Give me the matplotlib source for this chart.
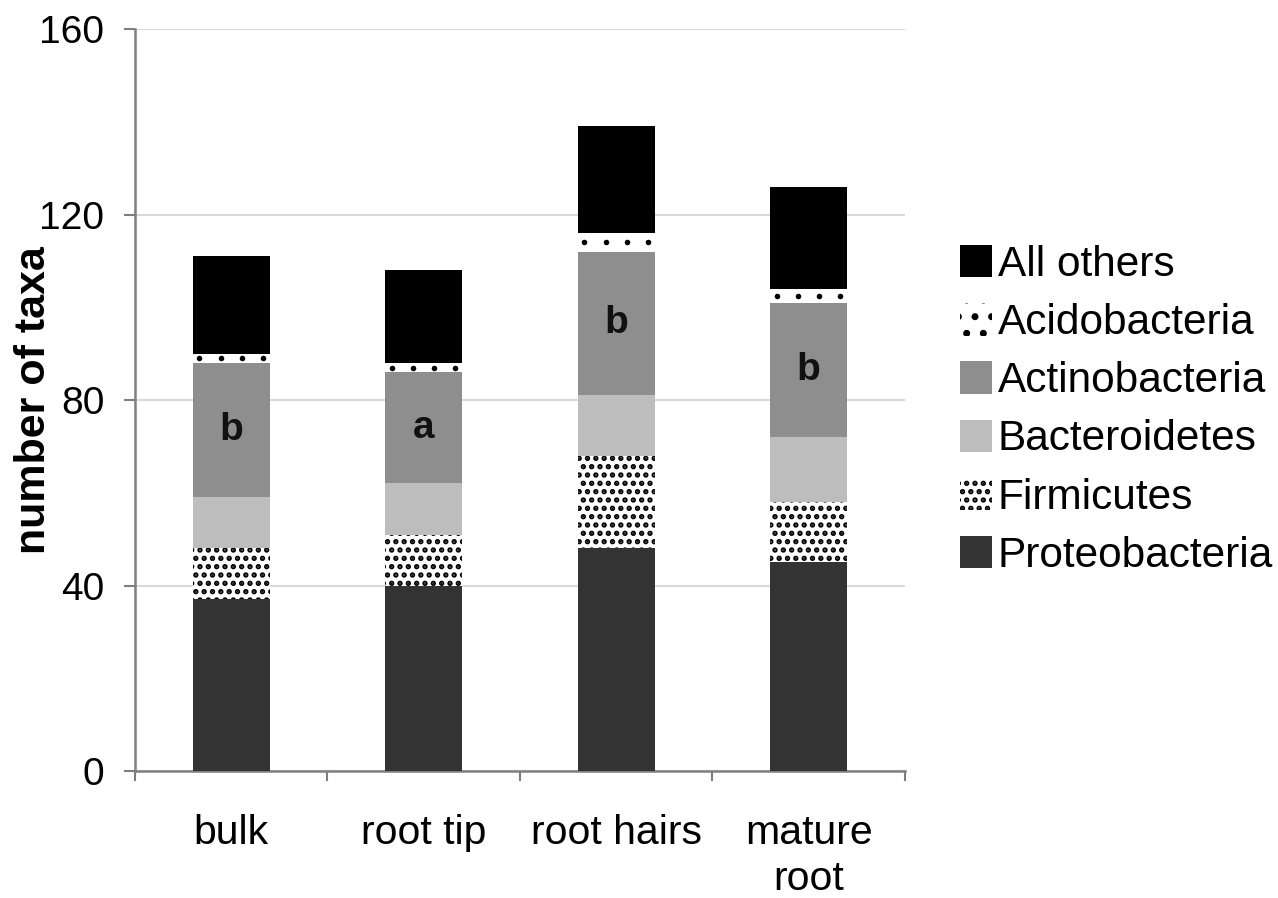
import matplotlib
matplotlib.use("Agg")
import matplotlib.pyplot as plt
from matplotlib.patches import Patch
import numpy as np

plt.rcParams['font.family'] = ['Liberation Sans', 'DejaVu Sans']
plt.rcParams['hatch.linewidth'] = 2.6

sites = ['bulk', 'root tip', 'root hairs', 'mature\nroot']
phyla = ['Proteobacteria', 'Firmicutes', 'Bacteroidetes', 'Actinobacteria',
         'Acidobacteria', 'All others']
proteo = [37, 40, 48, 45]
firmic = [11, 11, 20, 13]
bactero = [11, 11, 13, 14]
actino = [29, 24, 31, 29]
acido = [2, 2, 4, 3]
others = [21, 20, 23, 22]
letters = ['b', 'a', 'b', 'b']

series = [proteo, firmic, bactero, actino, acido, others]
colors = ['#333333', 'white', '#bdbdbd', '#8e8e8e', 'white', '#000000']
hatches = [None, '..', None, None, None, None]

fig = plt.figure(figsize=(12.78, 8.98), dpi=100)
ax = fig.add_axes([0.1056, 0.1414, 0.6025, 0.8263])

x = np.arange(len(sites))
w = 0.4
bottom = np.zeros(len(sites))
for vals, col, h in zip(series, colors, hatches):
    ax.bar(x, vals, w, bottom=bottom, color=col, hatch=h,
           edgecolor='black', linewidth=0, zorder=3)
    bottom += np.array(vals)

# sparse dot texture for the thin Acidobacteria band
acido_mid = (np.array(proteo) + np.array(firmic) + np.array(bactero)
             + np.array(actino) + np.array(acido) / 2)
for xi, yi in zip(x, acido_mid):
    offs = np.arange(-0.165, 0.17, 0.11)
    ax.scatter(xi + offs, np.full(len(offs), yi), s=16, color='black',
               marker='o', linewidths=0, zorder=4)

# significance letters in the Actinobacteria segment
act_mid = np.array(proteo) + np.array(firmic) + np.array(bactero) + np.array(actino) / 2
for xi, yi, t in zip(x, act_mid, letters):
    ax.text(xi, yi, t, ha='center', va='center', fontsize=28,
            fontweight='bold', color='#111111', zorder=4)

ax.set_xlim(-0.5, 3.5)
ax.set_ylim(0, 160)
ax.set_yticks([0, 40, 80, 120, 160])
ax.yaxis.grid(True, color='#d9d9d9', linewidth=1.5, zorder=0)
ax.set_axisbelow(True)

ax.set_xticks(x)
ax.set_xticklabels(sites, fontsize=29.5, linespacing=1.25)
ax.set_xticks(np.arange(-0.5, 4.0, 1.0), minor=True)
ax.tick_params(axis='x', which='major', length=0, pad=31)
ax.tick_params(axis='x', which='minor', length=7, width=1.5, color='#7f7f7f')
ax.tick_params(axis='y', length=8, width=1.5, color='#7f7f7f', pad=14,
               labelsize=28)

for s in ['top', 'right']:
    ax.spines[s].set_visible(False)
for s in ['left', 'bottom']:
    ax.spines[s].set_color('#7f7f7f')
    ax.spines[s].set_linewidth(1.8)

ax.set_ylabel('number of taxa', fontsize=31, fontweight='bold')
ax.yaxis.set_label_coords(-0.105, 0.5)

leg_hatches = [None, '..', None, None, '.', None]
handles = [Patch(facecolor=c, hatch=h, edgecolor='black', linewidth=0, label=p)
           for p, c, h in zip(phyla, colors, leg_hatches)]
fig.legend(handles[::-1], phyla[::-1], loc='center left',
           bbox_to_anchor=(0.751, 0.543), frameon=False, fontsize=30.5,
           handlelength=0.75, handleheight=0.8, handletextpad=0.15,
           labelspacing=0.43, borderpad=0, borderaxespad=0)

fig.savefig('out.png', dpi=100)
